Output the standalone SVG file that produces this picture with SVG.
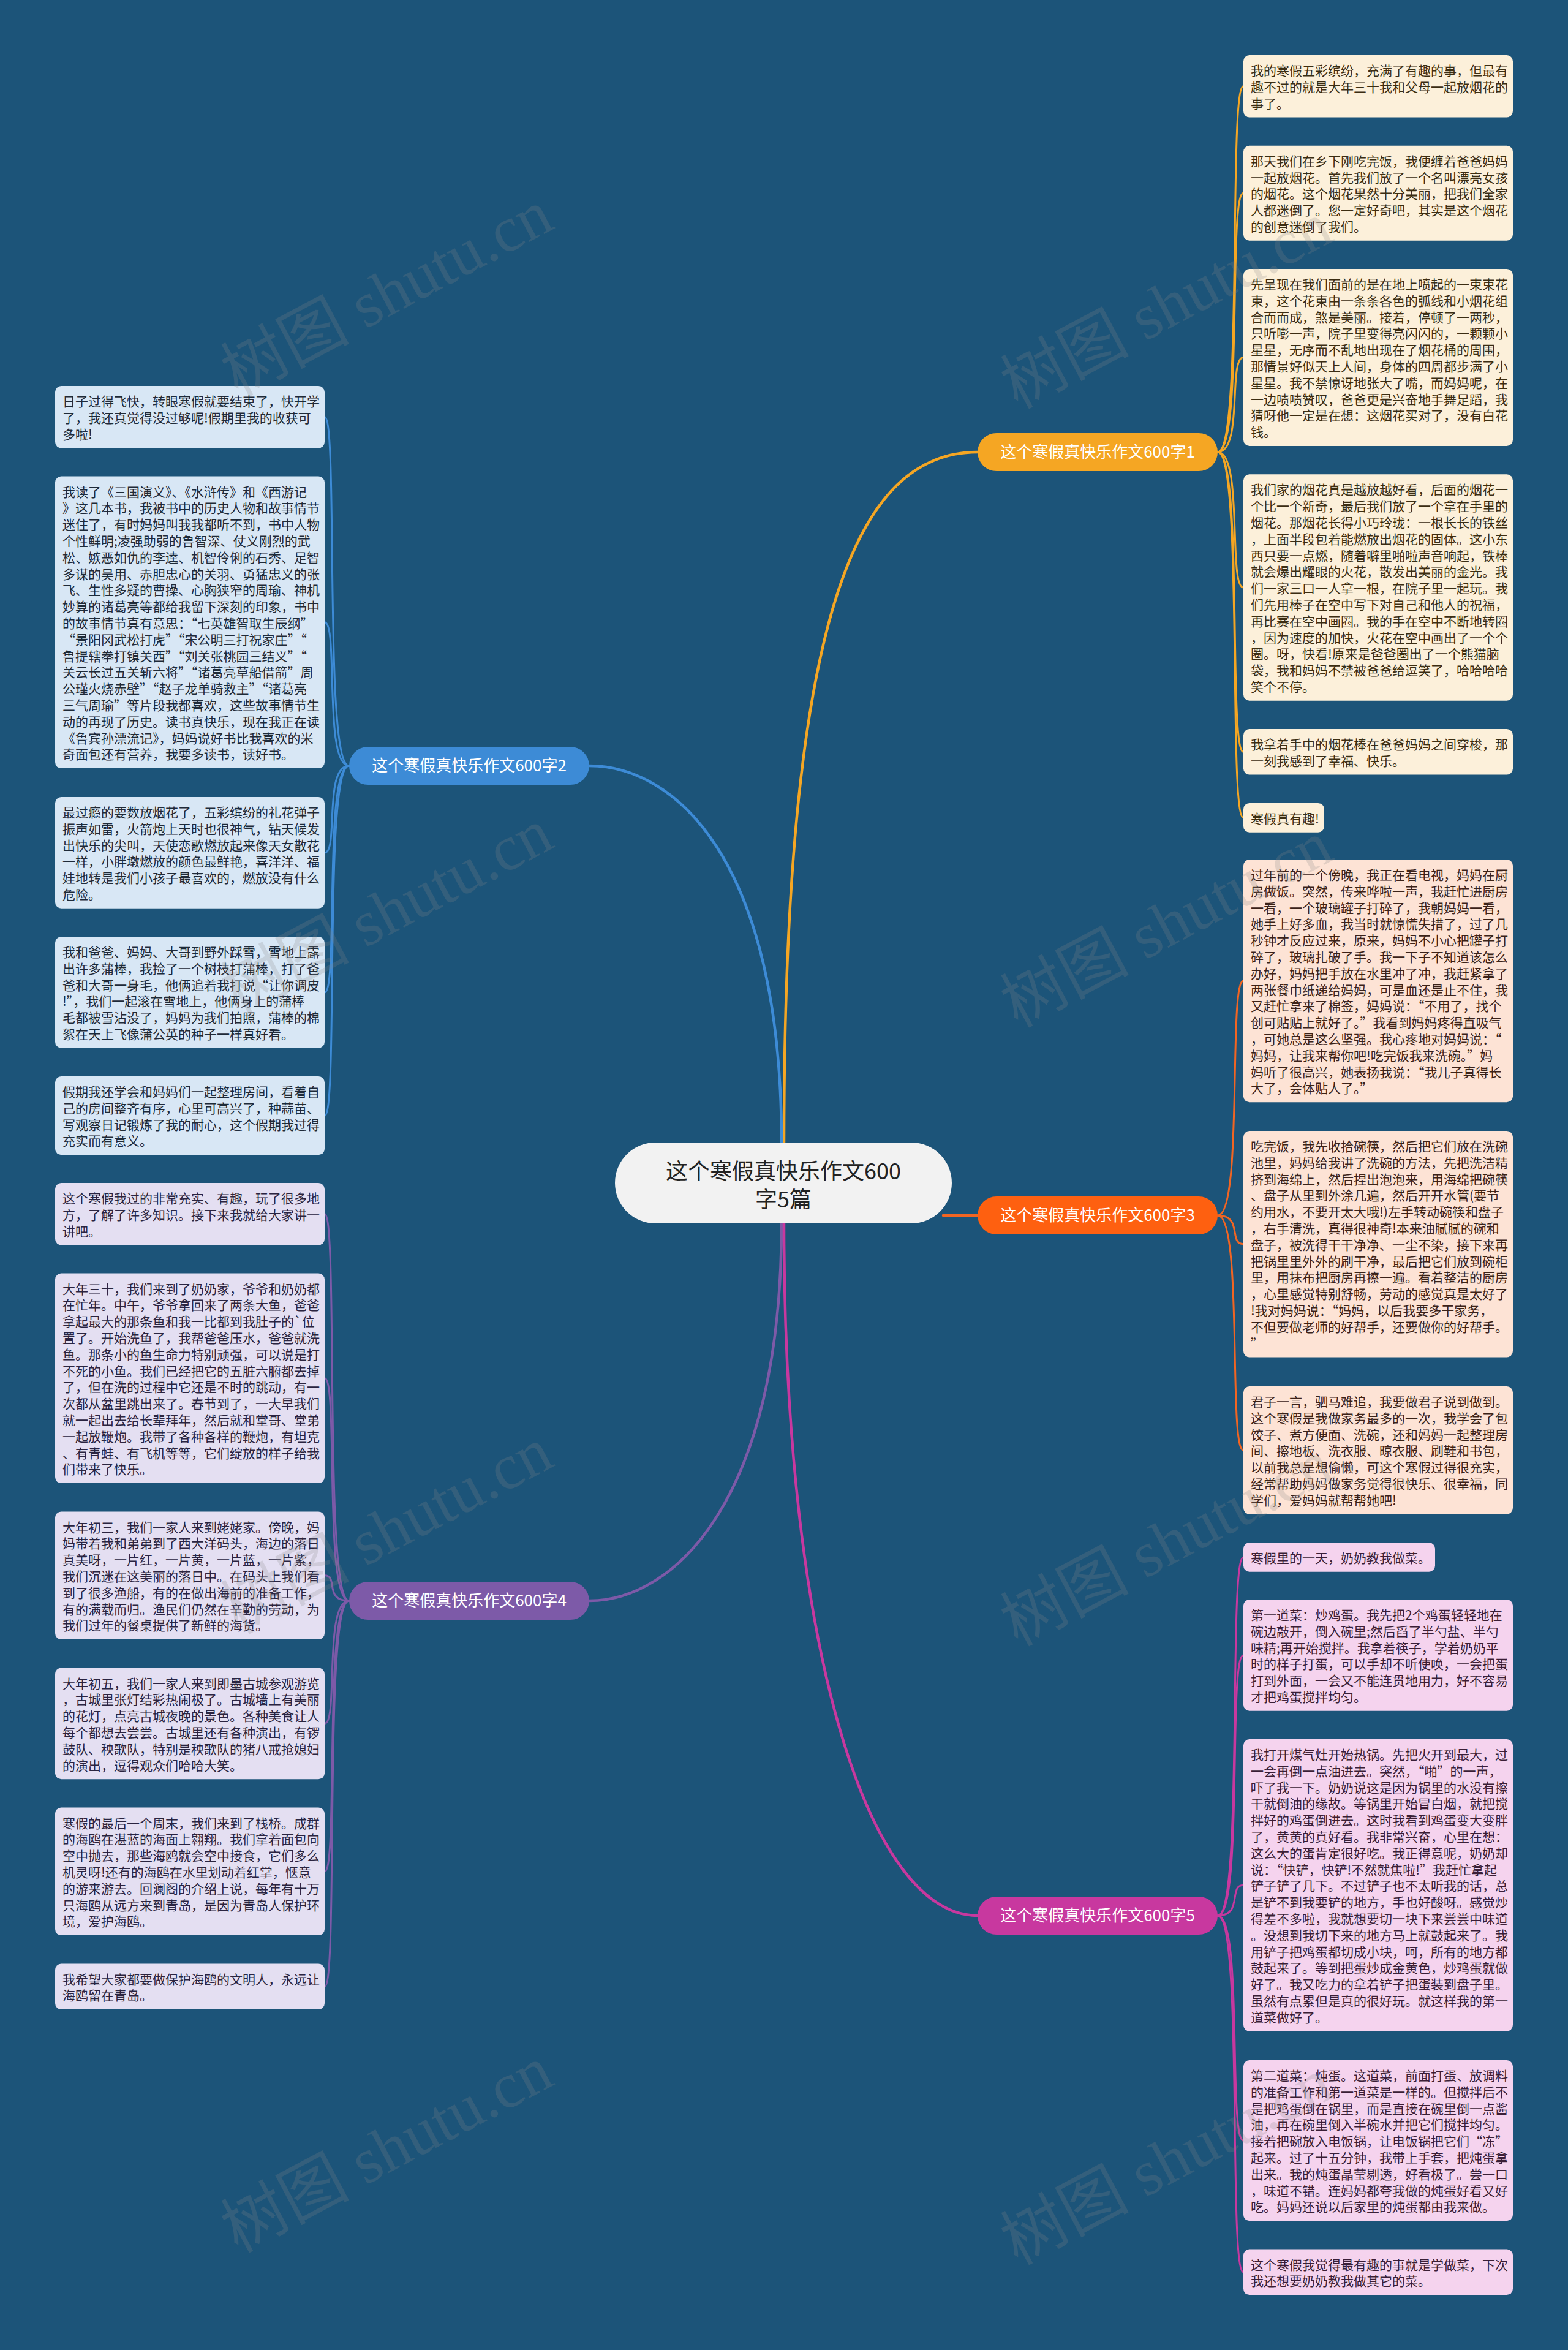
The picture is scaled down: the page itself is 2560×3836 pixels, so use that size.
<svg xmlns="http://www.w3.org/2000/svg" width="2560" height="3836" viewBox="0 0 2560 3836">
<style>
.bg{fill:#1c5479}
.leaf text,.lt{font-family:"Noto Sans CJK SC","Noto Sans",sans-serif;font-size:21px}
.c1 rect{fill:#fcf0da}.c1 text{fill:#3b2d12}
.c2 rect{fill:#d8e7f5}.c2 text{fill:#1e2a38}
.c3 rect{fill:#fde3d5}.c3 text{fill:#3b2218}
.c4 rect{fill:#e4dff2}.c4 text{fill:#2a2440}
.c5 rect{fill:#f5d3ee}.c5 text{fill:#3a1e36}
.br text{font-family:"Noto Sans CJK SC","Noto Sans",sans-serif;font-size:26px;text-anchor:middle;fill:#fff}
.conn path{fill:none;stroke-linecap:round}
.m{stroke-width:4.5}
.l{stroke-width:3}
.wm{font-family:"Liberation Serif","Noto Sans CJK SC",serif;font-size:105px;fill:#888;opacity:0.22}
</style>
<rect class="bg" x="0" y="0" width="2560" height="3836"/>

<g id="connectors" class="conn">
  <path class="m" stroke="#f5a623" d="M1280 1866 C1280 1000 1400 738 1596 738"/>
  <path class="m" stroke="#3d8bd6" d="M1276 1866 C1276 1400 1100 1250 962 1250"/>
  <path class="m" stroke="#f26522" d="M1540 1984 L1596 1984"/>
  <path class="m" stroke="#7d5aa8" d="M1276 1997 C1276 2450 1100 2613 962 2613"/>
  <path class="m" stroke="#c8389f" d="M1280 1997 C1280 2700 1420 3127 1596 3127"/>
  <g stroke="#f5a623">
    <path class="l" d="M1988 738 C2030 738 2005 140.7 2030 140.7"/>
    <path class="l" d="M1988 738 C2030 738 2005 315.2 2030 315.2"/>
    <path class="l" d="M1988 738 C2030 738 2005 583.5 2030 583.5"/>
    <path class="l" d="M1988 738 C2030 738 2005 959 2030 959"/>
    <path class="l" d="M1988 738 C2030 738 2005 1227.3 2030 1227.3"/>
    <path class="l" d="M1988 738 C2030 738 2005 1334.8 2030 1334.8"/>
  </g>
  <g stroke="#f26522">
    <path class="l" d="M1988 1984 C2030 1984 2005 1601.1 2030 1601.1"/>
    <path class="l" d="M1988 1984 C2030 1984 2005 2030.7 2030 2030.7"/>
    <path class="l" d="M1988 1984 C2030 1984 2005 2367.3 2030 2367.3"/>
  </g>
  <g stroke="#c8389f">
    <path class="l" d="M1988 3127 C2030 3127 2005 2541.9 2030 2541.9"/>
    <path class="l" d="M1988 3127 C2030 3127 2005 2701.9 2030 2701.9"/>
    <path class="l" d="M1988 3127 C2030 3127 2005 3077.3 2030 3077.3"/>
    <path class="l" d="M1988 3127 C2030 3127 2005 3494.1 2030 3494.1"/>
    <path class="l" d="M1988 3127 C2030 3127 2005 3708.8 2030 3708.8"/>
  </g>
  <g stroke="#3d8bd6">
    <path class="l" d="M570 1250 C528 1250 553 680.7 530 680.7"/>
    <path class="l" d="M570 1250 C528 1250 553 1015.8 530 1015.8"/>
    <path class="l" d="M570 1250 C528 1250 553 1391.9 530 1391.9"/>
    <path class="l" d="M570 1250 C528 1250 553 1619.9 530 1619.9"/>
    <path class="l" d="M570 1250 C528 1250 553 1821.1 530 1821.1"/>
  </g>
  <g stroke="#7d5aa8">
    <path class="l" d="M570 2613 C528 2613 553 1981.7 530 1981.7"/>
    <path class="l" d="M570 2613 C528 2613 553 2249.8 530 2249.8"/>
    <path class="l" d="M570 2613 C528 2613 553 2571.8 530 2571.8"/>
    <path class="l" d="M570 2613 C528 2613 553 2813.4 530 2813.4"/>
    <path class="l" d="M570 2613 C528 2613 553 3054.8 530 3054.8"/>
    <path class="l" d="M570 2613 C528 2613 553 3242.8 530 3242.8"/>
  </g>
</g>

<g id="center">
  <rect x="1004" y="1865" width="550" height="132" rx="66" fill="#f2f2f2"/>
  <text x="1279" y="1925" font-family="'Noto Sans CJK SC','Noto Sans',sans-serif" font-size="36" fill="#222" text-anchor="middle">这个寒假真快乐作文600</text>
  <text x="1279" y="1971" font-family="'Noto Sans CJK SC','Noto Sans',sans-serif" font-size="36" fill="#222" text-anchor="middle">字5篇</text>
</g>

<g id="branch1" class="br">
  <rect x="1596" y="707" width="392" height="62" rx="31" fill="#f5a623"/>
  <text x="1792" y="747">这个寒假真快乐作文600字1</text>
</g>
<g id="branch2" class="br">
  <rect x="570" y="1219" width="392" height="62" rx="31" fill="#3d8bd6"/>
  <text x="766" y="1259">这个寒假真快乐作文600字2</text>
</g>
<g id="branch3" class="br">
  <rect x="1596" y="1953" width="392" height="62" rx="31" fill="#fe6010"/>
  <text x="1792" y="1993">这个寒假真快乐作文600字3</text>
</g>
<g id="branch4" class="br">
  <rect x="570" y="2582" width="392" height="62" rx="31" fill="#7d5aa8"/>
  <text x="766" y="2622">这个寒假真快乐作文600字4</text>
</g>
<g id="branch5" class="br">
  <rect x="1596" y="3096" width="392" height="62" rx="31" fill="#c8389f"/>
  <text x="1792" y="3136">这个寒假真快乐作文600字5</text>
</g>

<g id="r1" class="leaf c1"><rect x="2030" y="90" width="440" height="101.4" rx="10"/>
<text y="123"><tspan x="2042">我的寒假五彩缤纷，充满了有趣的事，但最有</tspan><tspan x="2042" dy="26.8">趣不过的就是大年三十我和父母一起放烟花的</tspan><tspan x="2042" dy="26.8">事了。</tspan></text></g>

<g id="r2" class="leaf c1"><rect x="2030" y="237.7" width="440" height="155" rx="10"/>
<text y="270.7"><tspan x="2042">那天我们在乡下刚吃完饭，我便缠着爸爸妈妈</tspan><tspan x="2042" dy="26.8">一起放烟花。首先我们放了一个名叫漂亮女孩</tspan><tspan x="2042" dy="26.8">的烟花。这个烟花果然十分美丽，把我们全家</tspan><tspan x="2042" dy="26.8">人都迷倒了。您一定好奇吧，其实是这个烟花</tspan><tspan x="2042" dy="26.8">的创意迷倒了我们。</tspan></text></g>

<g id="r3" class="leaf c1"><rect x="2030" y="439" width="440" height="289" rx="10"/>
<text y="472"><tspan x="2042">先呈现在我们面前的是在地上喷起的一束束花</tspan><tspan x="2042" dy="26.8">束，这个花束由一条条各色的弧线和小烟花组</tspan><tspan x="2042" dy="26.8">合而而成，煞是美丽。接着，停顿了一两秒，</tspan><tspan x="2042" dy="26.8">只听嘭一声，院子里变得亮闪闪的，一颗颗小</tspan><tspan x="2042" dy="26.8">星星，无序而不乱地出现在了烟花桶的周围，</tspan><tspan x="2042" dy="26.8">那情景好似天上人间，身体的四周都步满了小</tspan><tspan x="2042" dy="26.8">星星。我不禁惊讶地张大了嘴，而妈妈呢，在</tspan><tspan x="2042" dy="26.8">一边啧啧赞叹，爸爸更是兴奋地手舞足蹈，我</tspan><tspan x="2042" dy="26.8">猜呀他一定是在想：这烟花买对了，没有白花</tspan><tspan x="2042" dy="26.8">钱。</tspan></text></g>

<g id="r4" class="leaf c1"><rect x="2030" y="774.3" width="440" height="369.4" rx="10"/>
<text y="807.3"><tspan x="2042">我们家的烟花真是越放越好看，后面的烟花一</tspan><tspan x="2042" dy="26.8">个比一个新奇，最后我们放了一个拿在手里的</tspan><tspan x="2042" dy="26.8">烟花。那烟花长得小巧玲珑：一根长长的铁丝</tspan><tspan x="2042" dy="26.8">，上面半段包着能燃放出烟花的固体。这小东</tspan><tspan x="2042" dy="26.8">西只要一点燃，随着噼里啪啦声音响起，铁棒</tspan><tspan x="2042" dy="26.8">就会爆出耀眼的火花，散发出美丽的金光。我</tspan><tspan x="2042" dy="26.8">们一家三口一人拿一根，在院子里一起玩。我</tspan><tspan x="2042" dy="26.8">们先用棒子在空中写下对自己和他人的祝福，</tspan><tspan x="2042" dy="26.8">再比赛在空中画圈。我的手在空中不断地转圈</tspan><tspan x="2042" dy="26.8">，因为速度的加快，火花在空中画出了一个个</tspan><tspan x="2042" dy="26.8">圈。呀，快看!原来是爸爸圈出了一个熊猫脑</tspan><tspan x="2042" dy="26.8">袋，我和妈妈不禁被爸爸给逗笑了，哈哈哈哈</tspan><tspan x="2042" dy="26.8">笑个不停。</tspan></text></g>

<g id="r5" class="leaf c1"><rect x="2030" y="1190" width="440" height="74.6" rx="10"/>
<text y="1223"><tspan x="2042">我拿着手中的烟花棒在爸爸妈妈之间穿梭，那</tspan><tspan x="2042" dy="26.8">一刻我感到了幸福、快乐。</tspan></text></g>

<g id="r6" class="leaf c1"><rect x="2030" y="1310.9" width="132" height="47.8" rx="10"/>
<text y="1343.9"><tspan x="2042">寒假真有趣!</tspan></text></g>

<g id="r7" class="leaf c3"><rect x="2030" y="1403" width="440" height="396.2" rx="10"/>
<text y="1436"><tspan x="2042">过年前的一个傍晚，我正在看电视，妈妈在厨</tspan><tspan x="2042" dy="26.8">房做饭。突然，传来哗啦一声，我赶忙进厨房</tspan><tspan x="2042" dy="26.8">一看，一个玻璃罐子打碎了，我朝妈妈一看，</tspan><tspan x="2042" dy="26.8">她手上好多血，我当时就惊慌失措了，过了几</tspan><tspan x="2042" dy="26.8">秒钟才反应过来，原来，妈妈不小心把罐子打</tspan><tspan x="2042" dy="26.8">碎了，玻璃扎破了手。我一下子不知道该怎么</tspan><tspan x="2042" dy="26.8">办好，妈妈把手放在水里冲了冲，我赶紧拿了</tspan><tspan x="2042" dy="26.8">两张餐巾纸递给妈妈，可是血还是止不住，我</tspan><tspan x="2042" dy="26.8">又赶忙拿来了棉签，妈妈说：“不用了，找个</tspan><tspan x="2042" dy="26.8">创可贴贴上就好了。”我看到妈妈疼得直吸气</tspan><tspan x="2042" dy="26.8">，可她总是这么坚强。我心疼地对妈妈说：“</tspan><tspan x="2042" dy="26.8">妈妈，让我来帮你吧!吃完饭我来洗碗。”妈</tspan><tspan x="2042" dy="26.8">妈听了很高兴，她表扬我说：“我儿子真得长</tspan><tspan x="2042" dy="26.8">大了，会体贴人了。”</tspan></text></g>

<g id="r8" class="leaf c3"><rect x="2030" y="1846" width="440" height="369.4" rx="10"/>
<text y="1879"><tspan x="2042">吃完饭，我先收拾碗筷，然后把它们放在洗碗</tspan><tspan x="2042" dy="26.8">池里，妈妈给我讲了洗碗的方法，先把洗洁精</tspan><tspan x="2042" dy="26.8">挤到海绵上，然后捏出泡泡来，用海绵把碗筷</tspan><tspan x="2042" dy="26.8">、盘子从里到外涂几遍，然后开开水管(要节</tspan><tspan x="2042" dy="26.8">约用水，不要开太大哦!)左手转动碗筷和盘子</tspan><tspan x="2042" dy="26.8">，右手清洗，真得很神奇!本来油腻腻的碗和</tspan><tspan x="2042" dy="26.8">盘子，被洗得干干净净、一尘不染，接下来再</tspan><tspan x="2042" dy="26.8">把锅里里外外的刷干净，最后把它们放到碗柜</tspan><tspan x="2042" dy="26.8">里，用抹布把厨房再擦一遍。看着整洁的厨房</tspan><tspan x="2042" dy="26.8">，心里感觉特别舒畅，劳动的感觉真是太好了</tspan><tspan x="2042" dy="26.8">!我对妈妈说：“妈妈，以后我要多干家务，</tspan><tspan x="2042" dy="26.8">不但要做老师的好帮手，还要做你的好帮手。</tspan><tspan x="2042" dy="26.8">”</tspan></text></g>

<g id="r9" class="leaf c3"><rect x="2030" y="2263" width="440" height="208.6" rx="10"/>
<text y="2296"><tspan x="2042">君子一言，驷马难追，我要做君子说到做到。</tspan><tspan x="2042" dy="26.8">这个寒假是我做家务最多的一次，我学会了包</tspan><tspan x="2042" dy="26.8">饺子、煮方便面、洗碗，还和妈妈一起整理房</tspan><tspan x="2042" dy="26.8">间、擦地板、洗衣服、晾衣服、刷鞋和书包，</tspan><tspan x="2042" dy="26.8">以前我总是想偷懒，可这个寒假过得很充实，</tspan><tspan x="2042" dy="26.8">经常帮助妈妈做家务觉得很快乐、很幸福，同</tspan><tspan x="2042" dy="26.8">学们，爱妈妈就帮帮她吧!</tspan></text></g>

<g id="r10" class="leaf c5"><rect x="2030" y="2518" width="313" height="47.8" rx="10"/>
<text y="2551"><tspan x="2042">寒假里的一天，奶奶教我做菜。</tspan></text></g>

<g id="r11" class="leaf c5"><rect x="2030" y="2611" width="440" height="181.8" rx="10"/>
<text y="2644"><tspan x="2042">第一道菜：炒鸡蛋。我先把2个鸡蛋轻轻地在</tspan><tspan x="2042" dy="26.8">碗边敲开，倒入碗里;然后舀了半勺盐、半勺</tspan><tspan x="2042" dy="26.8">味精;再开始搅拌。我拿着筷子，学着奶奶平</tspan><tspan x="2042" dy="26.8">时的样子打蛋，可以手却不听使唤，一会把蛋</tspan><tspan x="2042" dy="26.8">打到外面，一会又不能连贯地用力，好不容易</tspan><tspan x="2042" dy="26.8">才把鸡蛋搅拌均匀。</tspan></text></g>

<g id="r12" class="leaf c5"><rect x="2030" y="2839" width="440" height="476.6" rx="10"/>
<text y="2872"><tspan x="2042">我打开煤气灶开始热锅。先把火开到最大，过</tspan><tspan x="2042" dy="26.8">一会再倒一点油进去。突然，“啪”的一声，</tspan><tspan x="2042" dy="26.8">吓了我一下。奶奶说这是因为锅里的水没有擦</tspan><tspan x="2042" dy="26.8">干就倒油的缘故。等锅里开始冒白烟，就把搅</tspan><tspan x="2042" dy="26.8">拌好的鸡蛋倒进去。这时我看到鸡蛋变大变胖</tspan><tspan x="2042" dy="26.8">了，黄黄的真好看。我非常兴奋，心里在想：</tspan><tspan x="2042" dy="26.8">这么大的蛋肯定很好吃。我正得意呢，奶奶却</tspan><tspan x="2042" dy="26.8">说：“快铲，快铲!不然就焦啦!”我赶忙拿起</tspan><tspan x="2042" dy="26.8">铲子铲了几下。不过铲子也不太听我的话，总</tspan><tspan x="2042" dy="26.8">是铲不到我要铲的地方，手也好酸呀。感觉炒</tspan><tspan x="2042" dy="26.8">得差不多啦，我就想要切一块下来尝尝中味道</tspan><tspan x="2042" dy="26.8">。没想到我切下来的地方马上就鼓起来了。我</tspan><tspan x="2042" dy="26.8">用铲子把鸡蛋都切成小块，呵，所有的地方都</tspan><tspan x="2042" dy="26.8">鼓起来了。等到把蛋炒成金黄色，炒鸡蛋就做</tspan><tspan x="2042" dy="26.8">好了。我又吃力的拿着铲子把蛋装到盘子里。</tspan><tspan x="2042" dy="26.8">虽然有点累但是真的很好玩。就这样我的第一</tspan><tspan x="2042" dy="26.8">道菜做好了。</tspan></text></g>

<g id="r13" class="leaf c5"><rect x="2030" y="3363" width="440" height="262.2" rx="10"/>
<text y="3396"><tspan x="2042">第二道菜：炖蛋。这道菜，前面打蛋、放调料</tspan><tspan x="2042" dy="26.8">的准备工作和第一道菜是一样的。但搅拌后不</tspan><tspan x="2042" dy="26.8">是把鸡蛋倒在锅里，而是直接在碗里倒一点酱</tspan><tspan x="2042" dy="26.8">油，再在碗里倒入半碗水并把它们搅拌均匀。</tspan><tspan x="2042" dy="26.8">接着把碗放入电饭锅，让电饭锅把它们“冻”</tspan><tspan x="2042" dy="26.8">起来。过了十五分钟，我带上手套，把炖蛋拿</tspan><tspan x="2042" dy="26.8">出来。我的炖蛋晶莹剔透，好看极了。尝一口</tspan><tspan x="2042" dy="26.8">，味道不错。连妈妈都夸我做的炖蛋好看又好</tspan><tspan x="2042" dy="26.8">吃。妈妈还说以后家里的炖蛋都由我来做。</tspan></text></g>

<g id="r14" class="leaf c5"><rect x="2030" y="3671.5" width="440" height="74.6" rx="10"/>
<text y="3704.5"><tspan x="2042">这个寒假我觉得最有趣的事就是学做菜，下次</tspan><tspan x="2042" dy="26.8">我还想要奶奶教我做其它的菜。</tspan></text></g>

<g id="l1" class="leaf c2"><rect x="90" y="630" width="440" height="101.4" rx="10"/>
<text y="663"><tspan x="102">日子过得飞快，转眼寒假就要结束了，快开学</tspan><tspan x="102" dy="26.8">了，我还真觉得没过够呢!假期里我的收获可</tspan><tspan x="102" dy="26.8">多啦!</tspan></text></g>

<g id="l2" class="leaf c2"><rect x="90" y="777.5" width="440" height="476.6" rx="10"/>
<text y="810.5"><tspan x="102">我读了《三国演义》、《水浒传》和《西游记</tspan><tspan x="102" dy="26.8">》这几本书，我被书中的历史人物和故事情节</tspan><tspan x="102" dy="26.8">迷住了，有时妈妈叫我我都听不到，书中人物</tspan><tspan x="102" dy="26.8">个性鲜明;凌强助弱的鲁智深、仗义刚烈的武</tspan><tspan x="102" dy="26.8">松、嫉恶如仇的李逵、机智伶俐的石秀、足智</tspan><tspan x="102" dy="26.8">多谋的吴用、赤胆忠心的关羽、勇猛忠义的张</tspan><tspan x="102" dy="26.8">飞、生性多疑的曹操、心胸狭窄的周瑜、神机</tspan><tspan x="102" dy="26.8">妙算的诸葛亮等都给我留下深刻的印象，书中</tspan><tspan x="102" dy="26.8">的故事情节真有意思：“七英雄智取生辰纲”</tspan><tspan x="102" dy="26.8">“景阳冈武松打虎”“宋公明三打祝家庄”“</tspan><tspan x="102" dy="26.8">鲁提辖拳打镇关西”“刘关张桃园三结义”“</tspan><tspan x="102" dy="26.8">关云长过五关斩六将”“诸葛亮草船借箭”周</tspan><tspan x="102" dy="26.8">公瑾火烧赤壁”“赵子龙单骑救主”“诸葛亮</tspan><tspan x="102" dy="26.8">三气周瑜”等片段我都喜欢，这些故事情节生</tspan><tspan x="102" dy="26.8">动的再现了历史。读书真快乐，现在我正在读</tspan><tspan x="102" dy="26.8">《鲁宾孙漂流记》，妈妈说好书比我喜欢的米</tspan><tspan x="102" dy="26.8">奇面包还有营养，我要多读书，读好书。</tspan></text></g>

<g id="l3" class="leaf c2"><rect x="90" y="1301" width="440" height="181.8" rx="10"/>
<text y="1334"><tspan x="102">最过瘾的要数放烟花了，五彩缤纷的礼花弹子</tspan><tspan x="102" dy="26.8">振声如雷，火箭炮上天时也很神气，钻天候发</tspan><tspan x="102" dy="26.8">出快乐的尖叫，天使恋歌燃放起来像天女散花</tspan><tspan x="102" dy="26.8">一样，小胖墩燃放的颜色最鲜艳，喜洋洋、福</tspan><tspan x="102" dy="26.8">娃地转是我们小孩子最喜欢的，燃放没有什么</tspan><tspan x="102" dy="26.8">危险。</tspan></text></g>

<g id="l4" class="leaf c2"><rect x="90" y="1529" width="440" height="181.8" rx="10"/>
<text y="1562"><tspan x="102">我和爸爸、妈妈、大哥到野外踩雪，雪地上露</tspan><tspan x="102" dy="26.8">出许多蒲棒，我捡了一个树枝打蒲棒，打了爸</tspan><tspan x="102" dy="26.8">爸和大哥一身毛，他俩追着我打说“让你调皮</tspan><tspan x="102" dy="26.8">!”，我们一起滚在雪地上，他俩身上的蒲棒</tspan><tspan x="102" dy="26.8">毛都被雪沾没了，妈妈为我们拍照，蒲棒的棉</tspan><tspan x="102" dy="26.8">絮在天上飞像蒲公英的种子一样真好看。</tspan></text></g>

<g id="l5" class="leaf c2"><rect x="90" y="1757" width="440" height="128.2" rx="10"/>
<text y="1790"><tspan x="102">假期我还学会和妈妈们一起整理房间，看着自</tspan><tspan x="102" dy="26.8">己的房间整齐有序，心里可高兴了，种蒜苗、</tspan><tspan x="102" dy="26.8">写观察日记锻炼了我的耐心，这个假期我过得</tspan><tspan x="102" dy="26.8">充实而有意义。</tspan></text></g>

<g id="l6" class="leaf c4"><rect x="90" y="1931" width="440" height="101.4" rx="10"/>
<text y="1964"><tspan x="102">这个寒假我过的非常充实、有趣，玩了很多地</tspan><tspan x="102" dy="26.8">方，了解了许多知识。接下来我就给大家讲一</tspan><tspan x="102" dy="26.8">讲吧。</tspan></text></g>

<g id="l7" class="leaf c4"><rect x="90" y="2078.5" width="440" height="342.6" rx="10"/>
<text y="2111.5"><tspan x="102">大年三十，我们来到了奶奶家，爷爷和奶奶都</tspan><tspan x="102" dy="26.8">在忙年。中午，爷爷拿回来了两条大鱼，爸爸</tspan><tspan x="102" dy="26.8">拿起最大的那条鱼和我一比都到我肚子的`位</tspan><tspan x="102" dy="26.8">置了。开始洗鱼了，我帮爸爸压水，爸爸就洗</tspan><tspan x="102" dy="26.8">鱼。那条小的鱼生命力特别顽强，可以说是打</tspan><tspan x="102" dy="26.8">不死的小鱼。我们已经把它的五脏六腑都去掉</tspan><tspan x="102" dy="26.8">了，但在洗的过程中它还是不时的跳动，有一</tspan><tspan x="102" dy="26.8">次都从盆里跳出来了。春节到了，一大早我们</tspan><tspan x="102" dy="26.8">就一起出去给长辈拜年，然后就和堂哥、堂弟</tspan><tspan x="102" dy="26.8">一起放鞭炮。我带了各种各样的鞭炮，有坦克</tspan><tspan x="102" dy="26.8">、有青蛙、有飞机等等，它们绽放的样子给我</tspan><tspan x="102" dy="26.8">们带来了快乐。</tspan></text></g>

<g id="l8" class="leaf c4"><rect x="90" y="2467.5" width="440" height="208.6" rx="10"/>
<text y="2500.5"><tspan x="102">大年初三，我们一家人来到姥姥家。傍晚，妈</tspan><tspan x="102" dy="26.8">妈带着我和弟弟到了西大洋码头，海边的落日</tspan><tspan x="102" dy="26.8">真美呀，一片红，一片黄，一片蓝，一片紫，</tspan><tspan x="102" dy="26.8">我们沉迷在这美丽的落日中。在码头上我们看</tspan><tspan x="102" dy="26.8">到了很多渔船，有的在做出海前的准备工作，</tspan><tspan x="102" dy="26.8">有的满载而归。渔民们仍然在辛勤的劳动，为</tspan><tspan x="102" dy="26.8">我们过年的餐桌提供了新鲜的海货。</tspan></text></g>

<g id="l9" class="leaf c4"><rect x="90" y="2722.5" width="440" height="181.8" rx="10"/>
<text y="2755.5"><tspan x="102">大年初五，我们一家人来到即墨古城参观游览</tspan><tspan x="102" dy="26.8">，古城里张灯结彩热闹极了。古城墙上有美丽</tspan><tspan x="102" dy="26.8">的花灯，点亮古城夜晚的景色。各种美食让人</tspan><tspan x="102" dy="26.8">每个都想去尝尝。古城里还有各种演出，有锣</tspan><tspan x="102" dy="26.8">鼓队、秧歌队，特别是秧歌队的猪八戒抢媳妇</tspan><tspan x="102" dy="26.8">的演出，逗得观众们哈哈大笑。</tspan></text></g>

<g id="l10" class="leaf c4"><rect x="90" y="2950.5" width="440" height="208.6" rx="10"/>
<text y="2983.5"><tspan x="102">寒假的最后一个周末，我们来到了栈桥。成群</tspan><tspan x="102" dy="26.8">的海鸥在湛蓝的海面上翱翔。我们拿着面包向</tspan><tspan x="102" dy="26.8">空中抛去，那些海鸥就会空中接食，它们多么</tspan><tspan x="102" dy="26.8">机灵呀!还有的海鸥在水里划动着红掌，惬意</tspan><tspan x="102" dy="26.8">的游来游去。回澜阁的介绍上说，每年有十万</tspan><tspan x="102" dy="26.8">只海鸥从远方来到青岛，是因为青岛人保护环</tspan><tspan x="102" dy="26.8">境，爱护海鸥。</tspan></text></g>

<g id="l11" class="leaf c4"><rect x="90" y="3205.5" width="440" height="74.6" rx="10"/>
<text y="3238.5"><tspan x="102">我希望大家都要做保护海鸥的文明人，永远让</tspan><tspan x="102" dy="26.8">海鸥留在青岛。</tspan></text></g>

<g id="watermarks">
  <text class="wm" text-anchor="middle" transform="translate(648 510) rotate(-28)">树图 shutu.cn</text>
  <text class="wm" text-anchor="middle" transform="translate(1921 530) rotate(-28)">树图 shutu.cn</text>
  <text class="wm" text-anchor="middle" transform="translate(648 1520) rotate(-28)">树图 shutu.cn</text>
  <text class="wm" text-anchor="middle" transform="translate(1921 1540) rotate(-28)">树图 shutu.cn</text>
  <text class="wm" text-anchor="middle" transform="translate(648 2530) rotate(-28)">树图 shutu.cn</text>
  <text class="wm" text-anchor="middle" transform="translate(1921 2550) rotate(-28)">树图 shutu.cn</text>
  <text class="wm" text-anchor="middle" transform="translate(648 3540) rotate(-28)">树图 shutu.cn</text>
  <text class="wm" text-anchor="middle" transform="translate(1921 3560) rotate(-28)">树图 shutu.cn</text>
</g>
</svg>
